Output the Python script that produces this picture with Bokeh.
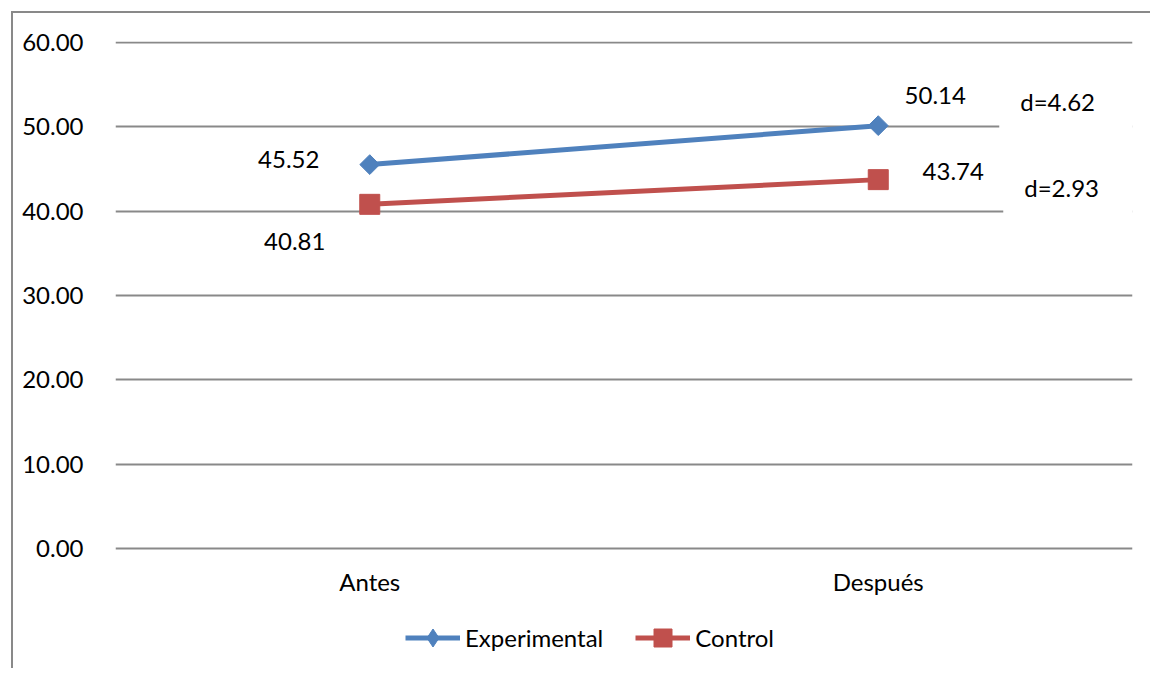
from bokeh.plotting import figure
from bokeh.models import (FactorRange, Range1d, FixedTicker, PrintfTickFormatter,
                          Legend, LegendItem, ColumnDataSource)
from bokeh.core.properties import value
from bokeh.embed import file_html
from bokeh.resources import INLINE
import numpy as np

# ---- data ----
categories = ["Antes", "Después"]
experimental = [45.52, 50.14]
control = [40.81, 43.74]
d_labels = ["d=4.62", "d=2.93"]
y_ticks = [0, 10, 20, 30, 40, 50, 60]

FONT = "Lato"
FS = "24px"
BLUE = "#4F81BD"
RED = "#C0504D"
GRID = "#898989"

p = figure(x_range=FactorRange(*categories, range_padding=0),
           y_range=Range1d(-14.466, 60.1186),
           width=1139, height=657, output_backend="svg", toolbar_location=None,
           min_border_left=102, min_border_right=20, min_border_top=28, min_border_bottom=0)
p.outline_line_color = None
p.background_fill_color = "white"
p.border_fill_color = "white"
p.styles = {"margin-left": "11px", "margin-top": "11px",
            "border-left": f"2px solid {GRID}", "border-top": f"2px solid {GRID}"}

# axes
p.yaxis.ticker = FixedTicker(ticks=y_ticks)
p.yaxis.formatter = PrintfTickFormatter(format="%.2f")
for ax in (p.xaxis[0], p.yaxis[0]):
    ax.axis_line_color = None
    ax.major_tick_line_color = None
    ax.minor_tick_line_color = None
    ax.major_label_text_font = FONT
    ax.major_label_text_font_size = FS
    ax.major_label_text_color = "black"
p.xaxis.fixed_location = y_ticks[0]
p.yaxis.major_label_standoff = 26
p.xaxis.major_label_standoff = 12
p.xgrid.grid_line_color = None
p.ygrid.grid_line_color = GRID
p.ygrid.grid_line_width = 2

# series
le = p.line(categories, experimental, line_color=BLUE, line_width=5)
se = p.scatter(categories, experimental, marker="square", angle=np.pi / 4, size=14,
               fill_color=BLUE, line_color=BLUE)
lc = p.line(categories, control, line_color=RED, line_width=5)
sc = p.scatter(categories, control, marker="square", size=20, fill_color=RED, line_color=RED)
# diamond symbol used only for the legend entry (hidden in the plot)
de = p.scatter(categories, experimental, marker="diamond", fill_color=BLUE,
               line_color=BLUE, visible=False)

# data labels
exp_dx = [-81, 57]
exp_dy = [-5, -30]
ctl_dx = [-75, 75]
ctl_dy = [37, -8]
fmt = lambda v: f"{v:.2f}"
p.text(x=categories, y=experimental, text=[fmt(v) for v in experimental],
       x_offset=exp_dx, y_offset=exp_dy, text_align="center", text_baseline="middle",
       text_font=value(FONT), text_font_size=FS, text_color="black")
p.text(x=categories, y=control, text=[fmt(v) for v in control],
       x_offset=ctl_dx, y_offset=ctl_dy, text_align="center", text_baseline="middle",
       text_font=value(FONT), text_font_size=FS, text_color="black")

# effect-size text boxes (white background hides grid lines)
d_src = ColumnDataSource(dict(x=[categories[1], categories[1]],
                              y=[experimental[1], control[1]],
                              t=d_labels, dx=[121, 125], dy=[-24, 8]))
p.text(x="x", y="y", text="t", x_offset="dx", y_offset="dy", source=d_src,
       text_align="left", text_baseline="middle",
       text_font=value(FONT), text_font_size=FS, text_color="black",
       background_fill_color="white",
       padding=dict(left=21, right=48, top=16, bottom=16))

legend = Legend(items=[LegendItem(label="Experimental", renderers=[le, de]),
                       LegendItem(label="Control", renderers=[lc, sc])],
                orientation="horizontal", location=(290, 10),
                glyph_width=55, glyph_height=45, label_standoff=5, spacing=32,
                padding=0, margin=0, border_line_color=None, background_fill_alpha=0,
                label_text_font=FONT, label_text_font_size=FS, label_text_color="black")
p.add_layout(legend, "center")

open("out.html", "w").write(file_html(p, INLINE))
